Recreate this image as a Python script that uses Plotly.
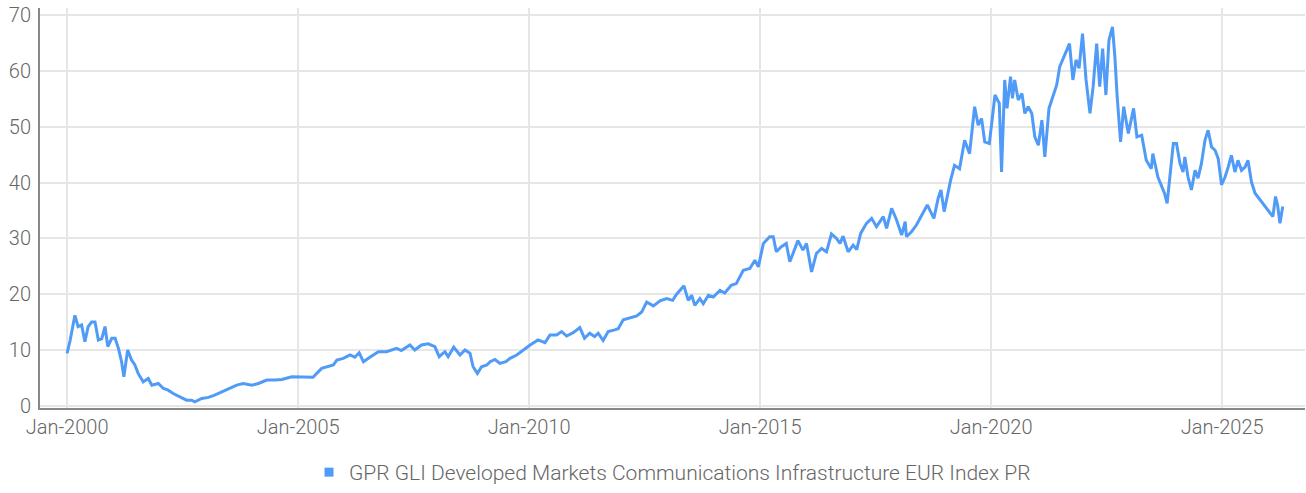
import plotly.graph_objects as go

dates = [
    "2000-01-01","2000-01-25","2000-03-03","2000-03-28","2000-04-25","2000-05-21","2000-06-16","2000-07-13",
    "2000-08-09","2000-09-04","2000-10-01","2000-10-27","2000-11-18","2000-12-19","2001-01-15","2001-02-10",
    "2001-03-07","2001-03-25","2001-04-24","2001-05-25","2001-06-20","2001-07-16","2001-08-25","2001-10-04",
    "2001-11-01","2001-12-22","2002-02-01","2002-03-10","2002-04-19","2002-06-12","2002-08-03","2002-09-12",
    "2002-10-07","2002-12-01","2003-01-22","2003-03-13","2003-05-06","2003-06-28","2003-09-03","2003-10-25",
    "2004-01-01","2004-02-22","2004-04-28","2004-07-01","2004-08-24","2004-11-12","2005-02-01","2005-04-28",
    "2005-07-06","2005-10-06","2005-11-03","2005-12-24","2006-02-15","2006-03-25","2006-04-28","2006-06-01",
    "2006-07-22","2006-09-27","2006-12-01","2007-01-10","2007-02-18","2007-03-28","2007-06-03","2007-07-12",
    "2007-09-03","2007-10-25","2007-12-18","2008-01-21","2008-03-06","2008-04-01","2008-05-15","2008-07-03",
    "2008-08-12","2008-09-21","2008-10-15","2008-11-18","2008-12-21","2009-02-01","2009-02-27","2009-04-06",
    "2009-05-15","2009-07-01","2009-08-03","2009-09-25","2009-11-15","2010-01-09","2010-03-12","2010-05-06",
    "2010-06-15","2010-08-06","2010-09-15","2010-10-25","2010-12-15","2011-02-06","2011-03-15","2011-04-25",
    "2011-06-03","2011-07-01","2011-08-09","2011-09-18","2011-11-09","2011-12-06","2012-01-15","2012-03-06",
    "2012-05-01","2012-06-09","2012-07-18","2012-09-09","2012-11-01","2012-12-24","2013-02-09","2013-03-12",
    "2013-05-09","2013-06-12","2013-07-09","2013-08-03","2013-09-12","2013-10-09","2013-11-18","2013-12-27",
    "2014-02-18","2014-03-27","2014-05-18","2014-06-27","2014-08-21","2014-10-12","2014-11-21","2014-12-18",
    "2015-01-27","2015-03-18","2015-04-15","2015-05-09","2015-06-18","2015-07-27","2015-08-24","2015-10-27",
    "2015-12-06","2016-01-03","2016-02-12","2016-03-21","2016-05-01","2016-06-09","2016-07-18","2016-08-27",
    "2016-09-24","2016-10-18","2016-11-27","2017-01-06","2017-02-03","2017-03-06","2017-04-21","2017-06-01",
    "2017-07-09","2017-09-01","2017-09-27","2017-11-06","2017-12-15","2018-01-24","2018-02-21","2018-03-03",
    "2018-04-12","2018-05-21","2018-07-01","2018-08-15","2018-10-06","2018-11-09","2018-12-01","2018-12-26",
    "2019-02-15","2019-03-18","2019-04-27","2019-06-06","2019-07-15","2019-08-24","2019-09-21","2019-10-18",
    "2019-11-12","2019-12-18","2020-01-06","2020-02-01","2020-03-06","2020-03-24","2020-04-18","2020-05-06",
    "2020-06-03","2020-06-18","2020-07-06","2020-08-03","2020-09-01","2020-09-24","2020-10-21","2020-11-18",
    "2020-12-12","2021-01-09","2021-02-06","2021-03-01","2021-04-03","2021-05-06","2021-06-03","2021-06-27",
    "2021-07-24","2021-08-21","2021-09-12","2021-10-09","2021-11-03","2021-11-27","2021-12-24","2022-01-21",
    "2022-02-21","2022-03-18","2022-04-15","2022-05-09","2022-06-01","2022-06-27","2022-07-21","2022-08-18",
    "2022-09-06","2022-09-24","2022-10-21","2022-11-15","2022-12-21","2023-02-01","2023-02-27","2023-04-06",
    "2023-05-12","2023-06-21","2023-07-03","2023-08-12","2023-10-03","2023-10-24","2023-11-15","2023-12-12",
    "2024-01-06","2024-02-03","2024-02-27","2024-03-12","2024-04-06","2024-05-03","2024-06-01","2024-06-24",
    "2024-07-21","2024-08-18","2024-09-12","2024-10-09","2024-11-06","2024-12-01","2024-12-27","2025-01-24",
    "2025-02-18","2025-03-15","2025-04-12","2025-05-06","2025-06-03","2025-07-01","2025-07-24","2025-08-21",
    "2025-09-18","2025-10-27","2025-12-06","2026-01-15","2026-02-06","2026-02-27","2026-03-15","2026-04-03",
    "2026-04-25",
]

values = [
    9.4, 11.7, 16.2, 14.2, 14.5, 11.5, 14.2, 15.0,
    15.0, 11.8, 12.0, 14.2, 10.6, 12.1, 12.1, 10.3,
    7.9, 5.2, 10.0, 8.2, 7.3, 5.8, 4.3, 4.9,
    3.7, 4.0, 3.1, 2.8, 2.2, 1.6, 1.0, 1.0,
    0.7, 1.3, 1.5, 1.9, 2.5, 3.1, 3.7, 4.0,
    3.7, 4.0, 4.6, 4.6, 4.7, 5.2, 5.2, 5.1,
    6.7, 7.3, 8.2, 8.5, 9.1, 8.7, 9.5, 7.9,
    8.7, 9.7, 9.7, 10.0, 10.3, 9.9, 10.9, 10.0,
    10.9, 11.1, 10.6, 8.8, 9.7, 8.8, 10.5, 9.1,
    10.0, 9.4, 7.0, 5.8, 7.0, 7.3, 7.9, 8.3,
    7.6, 7.9, 8.5, 9.1, 10.0, 10.9, 11.8, 11.3,
    12.7, 12.7, 13.3, 12.5, 13.1, 14.0, 12.1, 13.0,
    12.4, 13.0, 11.7, 13.3, 13.6, 13.8, 15.4, 15.7,
    16.1, 16.8, 18.6, 17.9, 18.8, 19.2, 18.9, 20.0,
    21.5, 18.9, 19.8, 18.0, 19.2, 18.3, 19.8, 19.5,
    20.7, 20.2, 21.6, 21.9, 24.3, 24.6, 26.1, 24.9,
    29.1, 30.3, 30.3, 27.6, 28.5, 29.1, 25.8, 29.6,
    27.9, 29.1, 24.0, 27.3, 28.2, 27.6, 30.8, 30.0,
    29.1, 30.4, 27.6, 28.8, 28.0, 30.9, 32.7, 33.6,
    32.1, 33.9, 31.8, 35.4, 33.3, 30.6, 33.0, 30.3,
    31.2, 32.4, 34.2, 36.0, 33.6, 37.2, 38.7, 34.8,
    40.4, 43.1, 42.5, 47.6, 45.2, 53.6, 50.3, 51.5,
    47.3, 47.0, 50.6, 55.7, 54.2, 41.9, 58.4, 53.3,
    59.0, 55.1, 58.4, 54.8, 56.0, 52.4, 53.6, 52.4,
    48.2, 46.7, 51.2, 44.6, 53.3, 55.4, 57.5, 60.8,
    62.3, 64.0, 64.9, 58.4, 62.0, 60.5, 66.7, 58.4,
    52.4, 57.2, 64.9, 57.2, 64.0, 55.7, 65.5, 67.9,
    62.5, 55.4, 47.3, 53.6, 48.8, 53.3, 48.2, 48.5,
    44.0, 42.5, 45.2, 41.0, 38.1, 36.3, 41.0, 47.0,
    47.0, 43.4, 41.9, 44.6, 41.0, 38.7, 42.2, 40.8,
    43.4, 47.6, 49.4, 46.4, 45.8, 44.3, 39.6, 41.0,
    42.8, 44.9, 41.9, 44.0, 42.2, 42.8, 44.0, 40.1,
    38.1, 36.9, 35.7, 34.5, 33.9, 37.5, 36.0, 32.7,
    35.7,
]

series_name = "GPR GLI Developed Markets Communications Infrastructure EUR Index PR"
y_ticks = [0, 10, 20, 30, 40, 50, 60, 70]

LINE = "#4f9bf7"
TXT = "#666666"
FONT = "Roboto"

fig = go.Figure()
fig.add_trace(go.Scatter(
    x=dates, y=values, mode="lines", name=series_name,
    line=dict(color=LINE, width=3), showlegend=False,
))
fig.add_trace(go.Scatter(
    x=[None], y=[None], mode="markers", name=series_name,
    marker=dict(symbol="square", size=9, color=LINE), showlegend=True,
))

fig.update_layout(
    width=1306, height=493,
    margin=dict(l=40, r=1, t=8, b=85),
    paper_bgcolor="white", plot_bgcolor="white",
    font=dict(family=FONT, size=20, color=TXT, weight=300),
    legend=dict(orientation="h", x=0.5, xanchor="center",
                yref="container", y=0, yanchor="bottom",
                font=dict(family=FONT, size=21, color=TXT, weight=300), itemwidth=30),
    xaxis=dict(
        type="date",
        range=["1999-06-01", "2026-10-18"],
        tick0="2000-01-01", dtick="M60", tickformat="%b-%Y",
        showgrid=True, gridcolor="#e6e6e6", gridwidth=2,
        showline=True, linecolor="#888888", linewidth=2,
        ticks="", zeroline=False, automargin=False,
    ),
    yaxis=dict(
        range=[-0.4, 71.3],
        tickvals=y_ticks,
        showgrid=True, gridcolor="#e6e6e6", gridwidth=2,
        showline=True, linecolor="#888888", linewidth=2,
        ticks="", zeroline=False, ticklabelstandoff=3, automargin=False,
    ),
)

fig.write_html("out.html", config={"displayModeBar": False},
               post_script="document.body.style.margin='0';")
